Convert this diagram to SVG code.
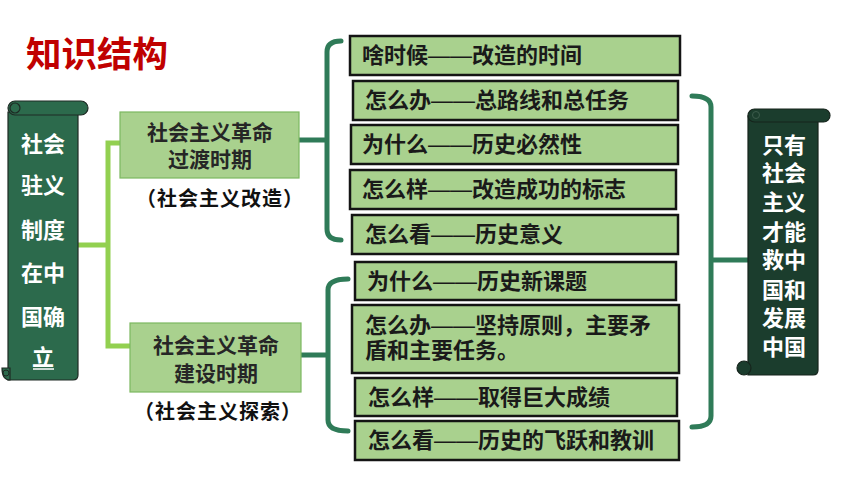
<svg xmlns="http://www.w3.org/2000/svg" width="860" height="484" viewBox="0 0 860 484">
<style>
.t{font-family:"Noto Sans CJK SC","Noto Sans",sans-serif;font-weight:700}
.d{font-family:"Liberation Sans","Noto Sans CJK SC",sans-serif;font-weight:400}
.title{font-size:35.5px;fill:#c00000}
.scrollL{fill:#2c6a4c;stroke:#1e2a24;stroke-width:1.2}
.scrollR{fill:#1b3d2d;stroke:#16241c;stroke-width:1.2}
.wt{fill:#ffffff;font-size:22px;text-anchor:middle}
.mid{fill:#a9d18e;stroke:#7cb860;stroke-width:1.2}
.leaf{fill:#a9d18e;stroke:#141414;stroke-width:2.5}
.lt{fill:#262626;font-size:21px;text-anchor:middle}
.bt{fill:#1a1a1a;font-size:22px}
.sub{fill:#111;font-size:20px;text-anchor:middle;letter-spacing:1px}
.lg{fill:none;stroke:#92d050;stroke-width:5}
.dg{fill:none;stroke:#2f7b58;stroke-width:5;stroke-linecap:round}
</style>
<rect width="860" height="484" fill="#ffffff"/>
<text class="t title" x="26" y="67">知识结构</text>

<g id="connectors">
<path class="lg" d="M78,245 H108 M120,143 H108 V346 H130"/>
<path class="dg" d="M292,140 H327 M341,41 Q327,41 327,52 L327,229 Q327,240 341,240"/>
<path class="dg" d="M301,355 H328 M348,279 Q328,279 328,290 L328,420 Q328,431 348,431"/>
<path class="dg" d="M692,96 Q711,96 711,107 L711,416 Q711,427 692,427 M711,260 H748"/>
</g>

<g id="root">
<path class="scrollL" d="M8,112 L78,112 L78,375 Q78,380 73,380 L8,380 Z"/>
<path class="scrollL" d="M2,368 Q2,380 10,380 L10,368 Z"/>
<circle cx="6" cy="373" r="3" fill="none" stroke="#1e2a24" stroke-width="1"/>
<rect class="scrollL" x="8" y="101" width="80" height="14" rx="7"/>
<circle cx="15" cy="108" r="5" fill="none" stroke="#1e2a24" stroke-width="1.2"/>
<text class="t wt" x="43" y="152">社会</text>
<text class="t wt" x="43" y="193">驻义</text>
<text class="t wt" x="43" y="238">制度</text>
<text class="t wt" x="43" y="281">在中</text>
<text class="t wt" x="43" y="325">国确</text>
<text class="t wt" x="43" y="365">立</text>
<line x1="33" y1="369" x2="54" y2="369" stroke="#ffffff" stroke-width="1.5"/>
</g>

<g id="period1">
<rect class="mid" x="120" y="112" width="179" height="66"/>
<text class="t lt" x="210" y="140">社会主义革命</text>
<text class="t lt" x="210" y="167">过渡时期</text>
<text class="t sub" x="220" y="206">（社会主义改造）</text>
</g>

<g id="period2">
<rect class="mid" x="130" y="323" width="171" height="69"/>
<text class="t lt" x="216" y="353">社会主义革命</text>
<text class="t lt" x="216" y="381">建设时期</text>
<text class="t sub" x="218" y="419">（社会主义探索）</text>
</g>

<g id="a1"><rect class="leaf" x="350" y="36" width="330" height="39"/><text class="t bt" x="362" y="63">啥时候<tspan class="d">——</tspan>改造的时间</text></g>
<g id="a2"><rect class="leaf" x="353" y="81" width="325" height="39"/><text class="t bt" x="365" y="108">怎么办<tspan class="d">——</tspan>总路线和总任务</text></g>
<g id="a3"><rect class="leaf" x="351" y="125" width="327" height="39"/><text class="t bt" x="362" y="152">为什么<tspan class="d">——</tspan>历史必然性</text></g>
<g id="a4"><rect class="leaf" x="350" y="170" width="326" height="39"/><text class="t bt" x="362" y="197">怎么样<tspan class="d">——</tspan>改造成功的标志</text></g>
<g id="a5"><rect class="leaf" x="352" y="215" width="326" height="39"/><text class="t bt" x="365" y="242">怎么看<tspan class="d">——</tspan>历史意义</text></g>

<g id="b1"><rect class="leaf" x="355" y="262" width="321" height="38"/><text class="t bt" x="367" y="289">为什么<tspan class="d">——</tspan>历史新课题</text></g>
<g id="b2"><rect class="leaf" x="352" y="305" width="327" height="68"/><text class="t bt" x="365" y="333">怎么办<tspan class="d">——</tspan>坚持原则，主要矛</text><text class="t bt" x="365" y="358">盾和主要任务。</text></g>
<g id="b3"><rect class="leaf" x="355" y="378" width="322" height="38"/><text class="t bt" x="368" y="405">怎么样<tspan class="d">——</tspan>取得巨大成绩</text></g>
<g id="b4"><rect class="leaf" x="355" y="421" width="324" height="39"/><text class="t bt" x="368" y="448">怎么看<tspan class="d">——</tspan>历史的飞跃和教训</text></g>

<g id="conclusion">
<path class="scrollR" d="M748,116 L818,116 L818,370 Q818,375 813,375 L748,375 Z"/>
<circle cx="744" cy="368" r="7" fill="#1b3d2d" stroke="#16241c" stroke-width="1.2"/>
<rect class="scrollR" x="748" y="109" width="82" height="13" rx="6.5"/>
<circle cx="756" cy="115" r="3.5" fill="none" stroke="#3c5c4c" stroke-width="1"/>
<text class="t wt" x="784" y="153">只有</text>
<text class="t wt" x="784" y="181">社会</text>
<text class="t wt" x="784" y="210">主义</text>
<text class="t wt" x="784" y="240">才能</text>
<text class="t wt" x="784" y="268">救中</text>
<text class="t wt" x="784" y="298">国和</text>
<text class="t wt" x="784" y="326">发展</text>
<text class="t wt" x="784" y="355">中国</text>
</g>
</svg>
